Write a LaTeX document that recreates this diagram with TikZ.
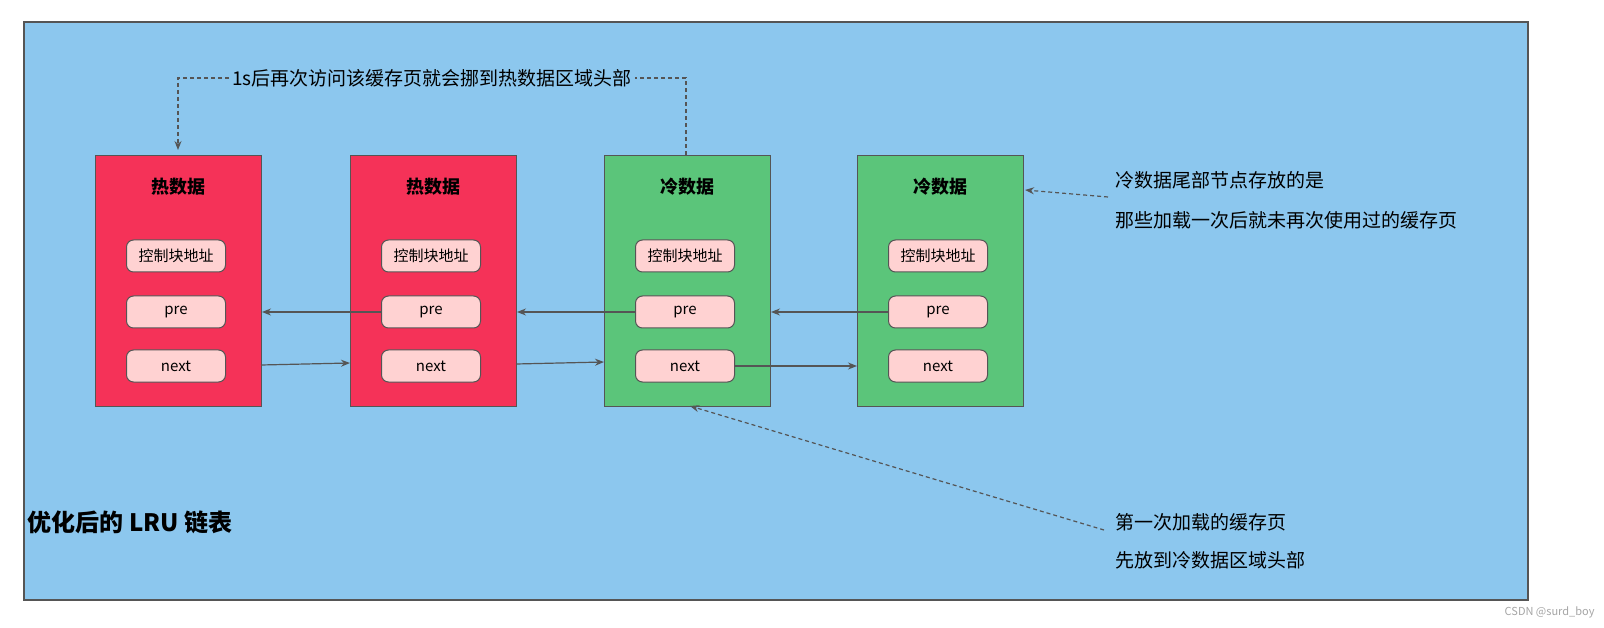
\documentclass[tikz,border=0pt]{standalone}
\usepackage{fontspec}
\setmainfont{Noto Sans CJK SC}
\usetikzlibrary{arrows.meta}
\definecolor{bg}{HTML}{8CC7EE}
\definecolor{hot}{HTML}{F53258}
\definecolor{cold}{HTML}{5BC57A}
\definecolor{pill}{HTML}{FFD2D2}
\definecolor{ln}{HTML}{555555}
\begin{document}
\begin{tikzpicture}[x=1pt,y=-1pt,
  box/.style={draw=ln,line width=1.2pt,minimum width=166pt,minimum height=251pt,anchor=north west},
  pl/.style={draw=ln,line width=1pt,fill=pill,rounded corners=7pt,minimum width=99pt,minimum height=32pt,font=\fontsize{15}{15}\selectfont},
  ttl/.style={font=\bfseries\fontsize{18}{18}\selectfont},
  txt/.style={font=\fontsize{19}{19}\selectfont,anchor=west},
  ar/.style={draw=ln,line width=1.2pt,-{Stealth[length=9pt,width=7pt]}},
  da/.style={draw=ln,line width=1.2pt,dashed,dash pattern=on 4pt off 3pt,-{Stealth[length=9pt,width=7pt]}}]
\path[use as bounding box] (0,0) rectangle (1604,628);
\begin{scope}[overlay]
\fill[white] (0,0) rectangle (1604,628);
\draw[ln,line width=1.2pt,fill=bg] (24,22) rectangle (1528,600);
\foreach \i/\x/\c/\t in {1/95/hot/热数据,2/350/hot/热数据,3/604/cold/冷数据,4/857/cold/冷数据}{
  \node[box,fill=\c] (b\i) at (\x,155) {};
  \node[ttl] (t\i) at (\x+83,187) {\t};
  \node[pl] (k\i) at (\x+81,256) {控制块地址};
  \node[pl] (p\i) at (\x+81,312) {pre};
  \node[pl] (n\i) at (\x+81,366) {next};
}
\coordinate (r1p) at (262,312); \coordinate (r2p) at (517,312); \coordinate (r3p) at (771,312);
\draw[ar] (p2.west) -- (r1p);
\draw[ar] (p3.west) -- (r2p);
\draw[ar] (p4.west) -- (r3p);
\coordinate (r1n) at (261,365); \coordinate (l2n) at (350,363);
\coordinate (r2n) at (516,364); \coordinate (l3n) at (604,362);
\coordinate (l4n) at (857,366);
\draw[ar] (r1n) -- (l2n);
\draw[ar] (r2n) -- (l3n);
\draw[ar] (n3.east) -- (l4n);
\node[font=\fontsize{19}{19}\selectfont,fill=bg,inner sep=3pt] (top) at (432,78) {1s后再次访问该缓存页就会挪到热数据区域头部};
\coordinate (c3t) at (686,155); \coordinate (c1t) at (178,150);
\draw[da,-] (c3t) -- (686,78) -- (top.east);
\draw[da] (top.west) -- (178,78) -- (c1t);
\node[txt] (rt1) at (1112,180) {冷数据尾部节点存放的是};
\node[txt] (rt2) at (1112,220) {那些加载一次后就未再次使用过的缓存页};
\coordinate (rs) at (1108,197); \coordinate (re) at (1025,190);
\draw[da] (rs) -- (re);
\node[txt] (bt1) at (1112,522) {第一次加载的缓存页};
\node[txt] (bt2) at (1112,560) {先放到冷数据区域头部};
\coordinate (bs) at (1104,530); \coordinate (be) at (690,406);
\draw[da] (bs) -- (be);
\node[anchor=west,font=\bfseries\fontsize{24}{24}\selectfont] (title) at (24,522) {优化后的 LRU 链表};
\node[font=\fontsize{11}{11}\selectfont,text=gray!70,anchor=east] (wm) at (1598,612) {CSDN @surd\_boy};
\end{scope}
\end{tikzpicture}
\end{document}
